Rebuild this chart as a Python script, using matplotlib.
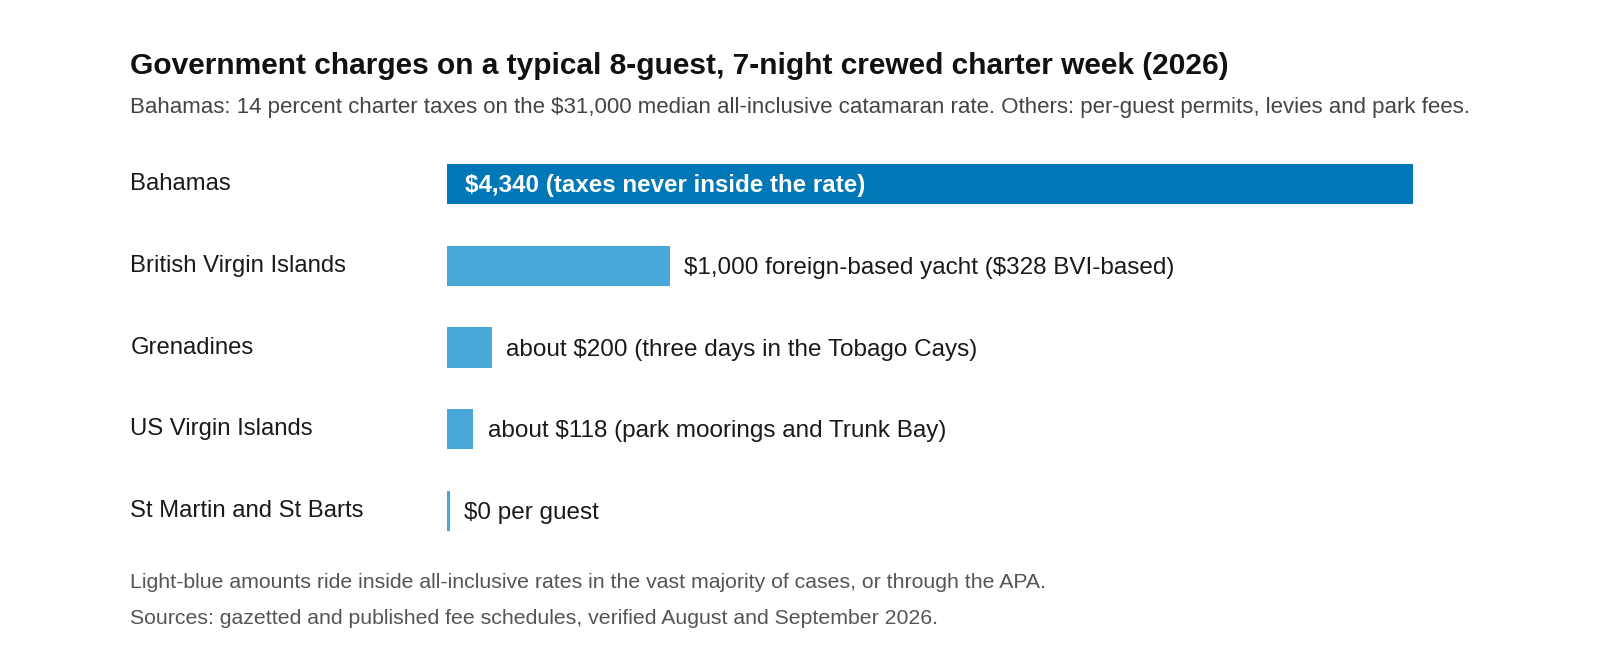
import matplotlib.pyplot as plt
from matplotlib.transforms import blended_transform_factory

plt.rcParams['font.family'] = ['Liberation Sans', 'DejaVu Sans']
plt.rcParams['text.parse_math'] = False  # dollar signs are plain text here

# Data
islands = ['Bahamas', 'British Virgin Islands', 'Grenadines',
           'US Virgin Islands', 'St Martin and St Barts']
charges = [4340, 1000, 200, 118, 0]
labels = ['$4,340 (taxes never inside the rate)',
          '$1,000 foreign-based yacht ($328 BVI-based)',
          'about $200 (three days in the Tobago Cays)',
          'about $118 (park moorings and Trunk Bay)',
          '$0 per guest']
included = [False, True, True, True, True]

title = 'Government charges on a typical 8-guest, 7-night crewed charter week (2026)'
subtitle = ('Bahamas: 14 percent charter taxes on the $31,000 median all-inclusive '
            'catamaran rate. Others: per-guest permits, levies and park fees.')
notes = ['Light-blue amounts ride inside all-inclusive rates in the vast majority of cases, or through the APA.',
         'Sources: gazetted and published fee schedules, verified August and September 2026.']

DARK = '#0077b6'
LIGHT = '#4aa8d8'
W, H = 1600, 670
TX = 130.5  # left edge of all text

fig = plt.figure(figsize=(W / 100, H / 100), dpi=100)
fig.patch.set_facecolor('white')

# axes placed in pixel terms: bars start at x=447, longest ends at 1413
left, right = 447, 1413
top, bottom = 143, 552
ax = fig.add_axes([left / W, 1 - bottom / H, (right - left) / W, (bottom - top) / H])
ax.set_xlim(0, max(charges))
ax.set_ylim(len(islands) - 0.5, -0.5)
ax.axis('off')

min_w = max(charges) * 3 / (right - left)  # keep a hairline stub for zero values
ypos = list(range(len(islands)))
widths = [max(v, min_w) for v in charges]
colors = [LIGHT if inc else DARK for inc in included]
ax.barh(ypos, widths, height=0.49, color=colors, linewidth=0)

lab_tr = blended_transform_factory(fig.transFigure, ax.transData)
for y, name, w, lab, inc in zip(ypos, islands, widths, labels, included):
    ax.text(TX / W, y, name, transform=lab_tr, ha='left', va='center',
            fontsize=17.2, color='#1a1a1a')
    if inc:
        ax.annotate(lab, (w, y), xytext=(10.3, -1.5), textcoords='offset points',
                    ha='left', va='center', fontsize=17.5, color='#1a1a1a')
    else:
        ax.annotate(lab, (0, y), xytext=(13.2, -1.5), textcoords='offset points',
                    ha='left', va='center', fontsize=17.4, color='white',
                    fontweight='bold')

fig.text(TX / W, 1 - 66 / H, title, ha='left', va='center', fontsize=21.5,
         fontweight='bold', color='#111111')
fig.text(TX / W, 1 - 107 / H, subtitle, ha='left', va='center', fontsize=16.05,
         color='#444444')
for i, note in enumerate(notes):
    fig.text(TX / W, 1 - (582 + 36 * i) / H, note, ha='left', va='center',
             fontsize=15.3, color='#555555')

fig.savefig('out.png', dpi=100, facecolor='white')
